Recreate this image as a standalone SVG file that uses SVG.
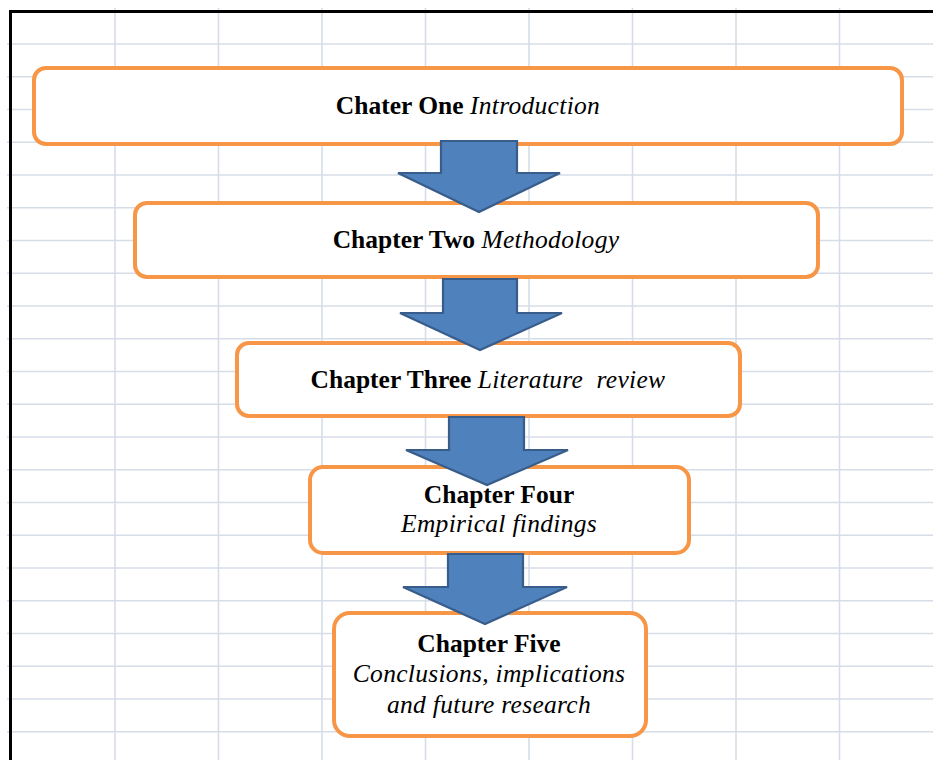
<svg xmlns="http://www.w3.org/2000/svg" width="933" height="760" viewBox="0 0 933 760">
<style>
.grid line{stroke:#D6DDE8;stroke-width:1.6}
.border{stroke:#000;stroke-width:3;fill:none}
.box{fill:#fff;stroke:#F79646;stroke-width:4}
.arrow{fill:#4F81BD;stroke:#385D8A;stroke-width:2.2;stroke-linejoin:miter}
text{font-family:"Liberation Serif","Times New Roman",serif;font-size:25.5px;fill:#000;text-anchor:middle}
.b{font-weight:bold}
.i{font-style:italic;letter-spacing:0.3px}
</style>
<rect width="933" height="760" fill="#fff"/>
<g class="grid">
<line x1="115" y1="8" x2="115" y2="760"/>
<line x1="218.5" y1="8" x2="218.5" y2="760"/>
<line x1="322" y1="8" x2="322" y2="760"/>
<line x1="425.5" y1="8" x2="425.5" y2="760"/>
<line x1="529" y1="8" x2="529" y2="760"/>
<line x1="632.5" y1="8" x2="632.5" y2="760"/>
<line x1="736" y1="8" x2="736" y2="760"/>
<line x1="839.5" y1="8" x2="839.5" y2="760"/>
<line x1="7" y1="44" x2="933" y2="44"/>
<line x1="7" y1="76.75" x2="933" y2="76.75"/>
<line x1="7" y1="109.5" x2="933" y2="109.5"/>
<line x1="7" y1="142.25" x2="933" y2="142.25"/>
<line x1="7" y1="175" x2="933" y2="175"/>
<line x1="7" y1="207.75" x2="933" y2="207.75"/>
<line x1="7" y1="240.5" x2="933" y2="240.5"/>
<line x1="7" y1="273.25" x2="933" y2="273.25"/>
<line x1="7" y1="306" x2="933" y2="306"/>
<line x1="7" y1="338.75" x2="933" y2="338.75"/>
<line x1="7" y1="371.5" x2="933" y2="371.5"/>
<line x1="7" y1="404.25" x2="933" y2="404.25"/>
<line x1="7" y1="437" x2="933" y2="437"/>
<line x1="7" y1="469.75" x2="933" y2="469.75"/>
<line x1="7" y1="502.5" x2="933" y2="502.5"/>
<line x1="7" y1="535.25" x2="933" y2="535.25"/>
<line x1="7" y1="568" x2="933" y2="568"/>
<line x1="7" y1="600.75" x2="933" y2="600.75"/>
<line x1="7" y1="633.5" x2="933" y2="633.5"/>
<line x1="7" y1="666.25" x2="933" y2="666.25"/>
<line x1="7" y1="699" x2="933" y2="699"/>
<line x1="7" y1="731.75" x2="933" y2="731.75"/>
</g>
<path class="border" d="M10.5,760 V11.5 H933"/>
<g id="node-chapter-one">
<rect class="box" x="34" y="68" width="868" height="76" rx="12"/>
<text x="468" y="114"><tspan class="b">Chater One </tspan><tspan class="i">Introduction</tspan></text>
</g>
<g id="node-chapter-two">
<rect class="box" x="135" y="203" width="683" height="74" rx="12"/>
<text x="476" y="248"><tspan class="b">Chapter Two </tspan><tspan class="i">Methodology</tspan></text>
</g>
<g id="node-chapter-three">
<rect class="box" x="237" y="343" width="503" height="73" rx="12"/>
<text x="488" y="388"><tspan class="b">Chapter Three </tspan><tspan class="i">Literature&#160; review</tspan></text>
</g>
<g id="node-chapter-four">
<rect class="box" x="310" y="467" width="379" height="86" rx="13"/>
<text x="499" y="503" class="b">Chapter Four</text>
<text x="499" y="532" class="i">Empirical findings</text>
</g>
<g id="node-chapter-five">
<rect class="box" x="334" y="613" width="312" height="123" rx="16"/>
<text x="489" y="652" class="b">Chapter Five</text>
<text x="489" y="682" class="i">Conclusions, implications</text>
<text x="489" y="713" class="i">and future research</text>
</g>
<g id="connectors">
<polygon class="arrow" points="441,141 517,141 517,173 560,173 479,212 398,173 441,173"/>
<polygon class="arrow" points="443,279 517,279 517,313 562,313 480,350 400,313 443,313"/>
<polygon class="arrow" points="449,417 524,417 524,450 568,450 487,485 406,450 449,450"/>
<polygon class="arrow" points="448,554 523,554 523,587 567,587 485,624 403,587 448,587"/>
</g>
</svg>
